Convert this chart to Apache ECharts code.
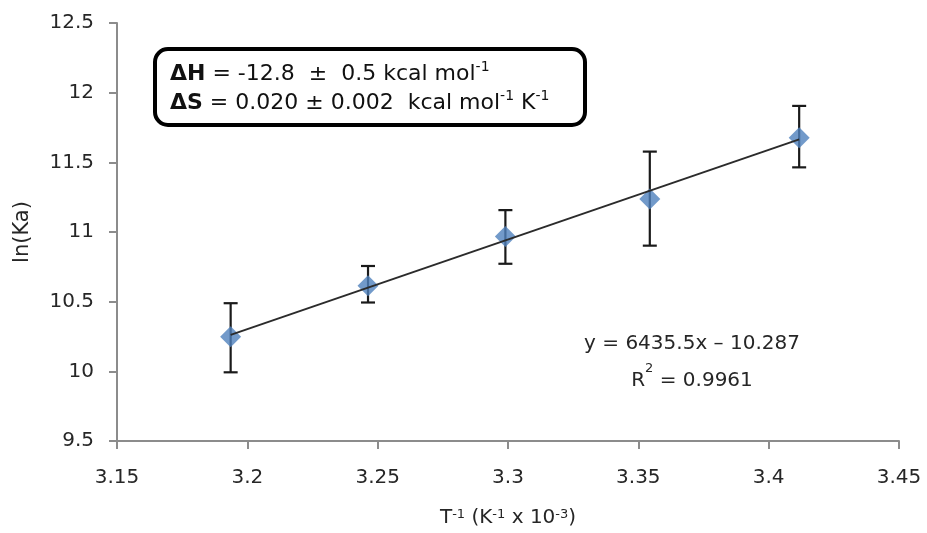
<!DOCTYPE html>
<html>
<head>
<meta charset="utf-8">
<script src="https://cdn.jsdelivr.net/npm/echarts@6/dist/echarts.min.js"></script>
<style>html,body{margin:0;padding:0;background:#fff;}#c{width:927px;height:533px;}</style>
</head>
<body>
<div id="c"></div>
<script>
// Data
const xVals = [3.1936, 3.2463, 3.2990, 3.3544, 3.4117];
const yVals = [10.248, 10.614, 10.968, 11.237, 11.676];
const errHigh = [10.489, 10.756, 11.157, 11.577, 11.905];
const errLow = [9.993, 10.494, 10.772, 10.902, 11.464];
const trendX = [3.1936, 3.4117];
const trendY = [10.262, 11.665];
const xTicks = ['3.15', '3.2', '3.25', '3.3', '3.35', '3.4', '3.45'];
const yTicks = ['9.5', '10', '10.5', '11', '11.5', '12', '12.5'];

const FONT = 'DejaVu Sans';
const TXT = '#262626';
const chart = echarts.init(document.getElementById('c'), null, {renderer: 'canvas'});

const points = xVals.map((x, i) => [x, yVals[i]]);
const errData = xVals.map((x, i) => [x, errLow[i], errHigh[i]]);
const trendData = trendX.map((x, i) => [x, trendY[i]]);

chart.setOption({
  animation: false,
  backgroundColor: '#fff',
  grid: {left: 117, right: 28, top: 23, bottom: 87, containLabel: false},
  xAxis: {
    type: 'value', min: 3.15, max: 3.45, interval: 0.05,
    axisLine: {show: true, lineStyle: {color: '#8c8c8c', width: 2}},
    axisTick: {show: true, length: 8, lineStyle: {color: '#8c8c8c', width: 2}},
    splitLine: {show: false},
    axisLabel: {margin: 27, fontFamily: FONT, fontSize: 20, color: TXT,
      formatter: (v) => { const i = Math.round((v - 3.15) / 0.05); return xTicks[i] ?? ''; }},
    name: 'T{sup|-1} (K{sup|-1} x 10{sup|-3})',
    nameLocation: 'middle', nameGap: 67,
    nameTextStyle: {fontFamily: FONT, fontSize: 20, color: TXT,
      rich: {sup: {fontFamily: FONT, fontSize: 13, verticalAlign: 'top', color: TXT}}}
  },
  yAxis: {
    type: 'value', min: 9.5, max: 12.5, interval: 0.5,
    axisLine: {show: true, lineStyle: {color: '#8c8c8c', width: 2}},
    axisTick: {show: true, length: 8, lineStyle: {color: '#8c8c8c', width: 2}},
    splitLine: {show: false},
    axisLabel: {margin: 23, fontFamily: FONT, fontSize: 20, color: TXT,
      formatter: (v) => { const i = Math.round((v - 9.5) / 0.5); return yTicks[i] ?? ''; }},
    name: 'ln(Ka)', nameLocation: 'middle', nameGap: 84, nameRotate: 90,
    nameTextStyle: {fontFamily: FONT, fontSize: 21, color: TXT}
  },
  series: [
    {
      type: 'custom', z: 1,
      data: errData,
      renderItem: function (params, api) {
        const x = api.value(0);
        const lo = api.coord([x, api.value(1)]);
        const hi = api.coord([x, api.value(2)]);
        const cap = 7;
        const st = {stroke: '#1a1a1a', lineWidth: 2.2};
        return {type: 'group', children: [
          {type: 'line', shape: {x1: lo[0], y1: lo[1], x2: hi[0], y2: hi[1]}, style: st},
          {type: 'line', shape: {x1: lo[0] - cap, y1: lo[1], x2: lo[0] + cap, y2: lo[1]}, style: st},
          {type: 'line', shape: {x1: hi[0] - cap, y1: hi[1], x2: hi[0] + cap, y2: hi[1]}, style: st}
        ]};
      }
    },
    {
      type: 'scatter', z: 2, data: points, symbol: 'diamond', symbolSize: [21, 21],
      itemStyle: {color: '#4F81BD'}
    },
    {
      type: 'line', z: 3, data: trendData, showSymbol: false, symbol: 'none',
      lineStyle: {color: '#2b2b2b', width: 2}
    }
  ],
  graphic: [
    {type: 'rect', z: 10, shape: {x: 155, y: 49, width: 430, height: 76, r: 13},
      style: {fill: '#fff', stroke: '#000', lineWidth: 4}},
    {type: 'text', z: 11, x: 170, y: 60,
      style: {
        text: '{b|ΔH} = -12.8  ±  0.5 kcal mol{sup|-1}\n{b|ΔS} = 0.020 ± 0.002  kcal mol{sup|-1} K{sup|-1}',
        fontFamily: FONT, fontSize: 22, fill: '#111', lineHeight: 29,
        rich: {
          b: {fontFamily: FONT, fontSize: 22, fontWeight: 'bold', fill: '#111', lineHeight: 29},
          sup: {fontFamily: FONT, fontSize: 14, verticalAlign: 'top', fill: '#111', lineHeight: 29}
        }
      }},
    {type: 'text', z: 11, x: 692, y: 325,
      style: {
        text: 'y = 6435.5x – 10.287\nR{sup|2} = 0.9961',
        fontFamily: FONT, fontSize: 20, fill: TXT, lineHeight: 37, align: 'center',
        rich: {sup: {fontFamily: FONT, fontSize: 13, verticalAlign: 'top', fill: TXT, lineHeight: 37}}
      }}
  ]
});
</script>
</body>
</html>
